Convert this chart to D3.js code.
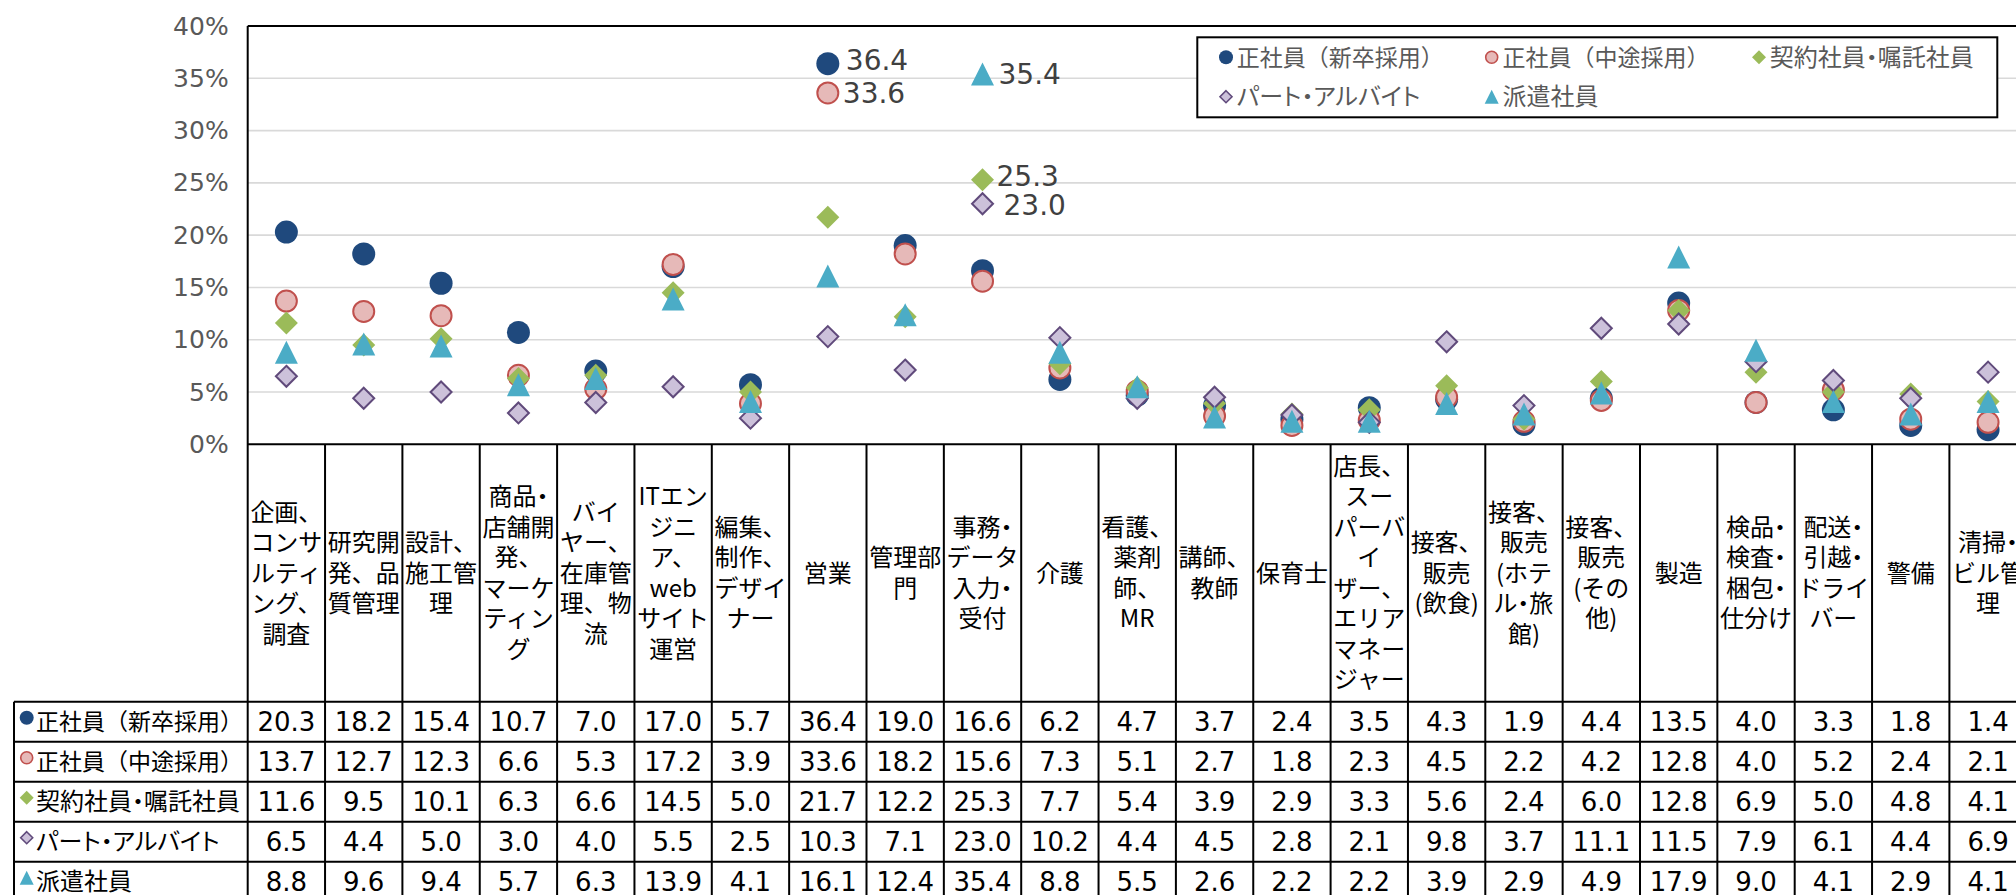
<!DOCTYPE html>
<html>
<head>
<meta charset="utf-8">
<script src="https://cdn.jsdelivr.net/npm/d3@7"></script>
<style>
  body { margin: 0; background: #fff; }
  svg { display: block; }
</style>
</head>
<body>
<div id="chart"></div>
<script>
// categories (line breaks follow the wrapping in the table header)
const categories = [
  "企画、\nコンサ\nルティ\nング、\n調査",
  "研究開\n発、品\n質管理",
  "設計、\n施工管\n理",
  "商品・\n店舗開\n発、\nマーケ\nティン\nグ",
  "バイ\nヤー、\n在庫管\n理、物\n流",
  "ITエン\nジニ\nア、\nweb\nサイト\n運営",
  "編集、\n制作、\nデザイ\nナー",
  "営業",
  "管理部\n門",
  "事務・\nデータ\n入力・\n受付",
  "介護",
  "看護、\n薬剤\n師、\nMR",
  "講師、\n教師",
  "保育士",
  "店長、\nスー\nパーバ\nイ\nザー、\nエリア\nマネー\nジャー",
  "接客、\n販売\n(飲食)",
  "接客、\n販売\n(ホテ\nル・旅\n館)",
  "接客、\n販売\n(その\n他)",
  "製造",
  "検品・\n検査・\n梱包・\n仕分け",
  "配送・\n引越・\nドライ\nバー",
  "警備",
  "清掃・\nビル管\n理"
];

const seriesNames = ["正社員（新卒採用）", "正社員（中途採用）", "契約社員・嘱託社員", "パート・アルバイト", "派遣社員"];

const shinsotsu = [20.3, 18.2, 15.4, 10.7, 7.0, 17.0, 5.7, 36.4, 19.0, 16.6, 6.2, 4.7, 3.7, 2.4, 3.5, 4.3, 1.9, 4.4, 13.5, 4.0, 3.3, 1.8, 1.4];
const chuto     = [13.7, 12.7, 12.3, 6.6, 5.3, 17.2, 3.9, 33.6, 18.2, 15.6, 7.3, 5.1, 2.7, 1.8, 2.3, 4.5, 2.2, 4.2, 12.8, 4.0, 5.2, 2.4, 2.1];
const keiyaku   = [11.6, 9.5, 10.1, 6.3, 6.6, 14.5, 5.0, 21.7, 12.2, 25.3, 7.7, 5.4, 3.9, 2.9, 3.3, 5.6, 2.4, 6.0, 12.8, 6.9, 5.0, 4.8, 4.1];
const part      = [6.5, 4.4, 5.0, 3.0, 4.0, 5.5, 2.5, 10.3, 7.1, 23.0, 10.2, 4.4, 4.5, 2.8, 2.1, 9.8, 3.7, 11.1, 11.5, 7.9, 6.1, 4.4, 6.9];
const haken     = [8.8, 9.6, 9.4, 5.7, 6.3, 13.9, 4.1, 16.1, 12.4, 35.4, 8.8, 5.5, 2.6, 2.2, 2.2, 3.9, 2.9, 4.9, 17.9, 9.0, 4.1, 2.9, 4.1];

const yTicks = [0, 5, 10, 15, 20, 25, 30, 35, 40];

// points that carry a value label: [series index, category index]
const labelled = [[0, 7], [1, 7], [4, 9], [2, 9], [3, 9]];

const values = [shinsotsu, chuto, keiyaku, part, haken];

// ---- layout ----
const W = 2016, H = 895;
const plotLeft = 247.7, colW = 77.35, plotTop = 26, plotBottom = 444.3;
const headerBottom = 701.7, rowH = 40, tableLeft = 14;
const cjk = "'Noto Sans CJK JP', sans-serif";
const num = "'DejaVu Sans', sans-serif";

const styles = [
  { shape: "circle", fill: "#1F497D", stroke: "none" },
  { shape: "circle", fill: "#E6B9B8", stroke: "#C0504D" },
  { shape: "diamond", fill: "#9BBB59", stroke: "none" },
  { shape: "diamond", fill: "#CCC1DA", stroke: "#604A7B" },
  { shape: "triangle", fill: "#4BACC6", stroke: "none" }
];

function markerPath(shape, size, stroked) {
  const p = d3.path();
  const h = size / 2 - (stroked ? 1 : 0);
  if (shape === "circle") {
    p.arc(0, 0, h, 0, 2 * Math.PI);
  } else if (shape === "diamond") {
    p.moveTo(0, -h); p.lineTo(h, 0); p.lineTo(0, h); p.lineTo(-h, 0); p.closePath();
  } else {
    p.moveTo(0, -h); p.lineTo(h, h); p.lineTo(-h, h); p.closePath();
  }
  return p.toString();
}

// narrow middle dots like the original UI font
const palt = t => t.includes("・") ? '"palt"' : null;
const labelSize = t => t.includes("（") ? 23 : 24;

const x = d3.scaleBand()
  .domain(d3.range(categories.length))
  .range([plotLeft, plotLeft + colW * categories.length]);

const y = d3.scaleLinear().domain([0, 40]).range([plotBottom, plotTop]);

const svg = d3.select("#chart").append("svg")
  .attr("width", W)
  .attr("height", H);

// gridlines
svg.append("g")
  .selectAll("line")
  .data(yTicks.filter(d => d > 0 && d < 40))
  .join("line")
  .attr("x1", plotLeft).attr("x2", W)
  .attr("y1", d => y(d)).attr("y2", d => y(d))
  .attr("stroke", "#D9D9D9")
  .attr("stroke-width", 1.6);

// y axis labels
const yAxis = svg.append("g")
  .attr("transform", `translate(${plotLeft},0)`)
  .call(d3.axisLeft(y).tickValues(yTicks).tickFormat(d => d + "%").tickSize(0).tickPadding(19));
yAxis.select(".domain").remove();
yAxis.selectAll("text")
  .attr("font-family", num)
  .attr("font-size", 25)
  .attr("fill", "#595959");

// plot top border
svg.append("line")
  .attr("x1", plotLeft).attr("x2", W)
  .attr("y1", plotTop).attr("y2", plotTop)
  .attr("stroke", "#000").attr("stroke-width", 2);

// legend
const legendItems = [
  { s: 0, x: 1226, y: 57.3 }, { s: 1, x: 1491.7, y: 57.3 }, { s: 2, x: 1759, y: 57.3 },
  { s: 3, x: 1226, y: 96.7 }, { s: 4, x: 1491.7, y: 96.7 }
];
svg.append("rect")
  .attr("x", 1197.3).attr("y", 37.3)
  .attr("width", 800).attr("height", 80)
  .attr("fill", "#fff")
  .attr("stroke", "#000").attr("stroke-width", 2);

const leg = svg.append("g")
  .selectAll("g")
  .data(legendItems)
  .join("g")
  .attr("transform", d => `translate(${d.x},${d.y})`);
leg.append("path")
  .attr("d", d => markerPath(styles[d.s].shape, 14, styles[d.s].stroke !== "none"))
  .attr("fill", d => styles[d.s].fill)
  .attr("stroke", d => styles[d.s].stroke)
  .attr("stroke-width", 1.6);
leg.append("text")
  .attr("x", 10.7)
  .attr("dy", "0.36em")
  .attr("font-family", cjk)
  .attr("font-size", d => labelSize(seriesNames[d.s]))
  .attr("fill", "#595959")
  .style("font-feature-settings", d => palt(seriesNames[d.s]))
  .text(d => seriesNames[d.s]);

// points
values.forEach((vals, s) => {
  const st = styles[s];
  svg.append("g")
    .selectAll("path")
    .data(vals)
    .join("path")
    .attr("transform", (d, i) => `translate(${x(i) + x.bandwidth() / 2},${y(d)})`)
    .attr("d", markerPath(st.shape, 23, st.stroke !== "none"))
    .attr("fill", st.fill)
    .attr("stroke", st.stroke)
    .attr("stroke-width", 2);
});

// value labels
const nudge = { "0,7": [3, -4], "1,7": [0, 0], "4,9": [1, 0], "2,9": [-1, -4], "3,9": [6, 1] };
svg.append("g")
  .selectAll("text")
  .data(labelled)
  .join("text")
  .attr("x", d => x(d[1]) + x.bandwidth() / 2 + 15 + nudge[d.join(",")][0])
  .attr("y", d => y(values[d[0]][d[1]]) + nudge[d.join(",")][1])
  .attr("dy", "0.36em")
  .attr("font-family", num)
  .attr("font-size", 28)
  .attr("fill", "#404040")
  .text(d => values[d[0]][d[1]].toFixed(1));

// ---- data table ----
const table = svg.append("g");

// header text
const headerMid = (plotBottom + headerBottom) / 2;
const hdr = table.selectAll("g.hdr")
  .data(categories)
  .join("g")
  .attr("class", "hdr")
  .attr("transform", (d, i) => `translate(${x(i) + x.bandwidth() / 2},${headerMid})`);
hdr.selectAll("text")
  .data(d => d.split("\n").map((t, k, arr) => ({ t, k, n: arr.length })))
  .join("text")
  .attr("text-anchor", "middle")
  .attr("y", d => (d.k - (d.n - 1) / 2) * 30.5)
  .attr("dy", "0.36em")
  .attr("font-family", cjk)
  .attr("font-size", 24)
  .attr("fill", "#000")
  .style("font-feature-settings", d => palt(d.t))
  .text(d => d.t);

// rows
const rows = table.selectAll("g.row")
  .data(values)
  .join("g")
  .attr("class", "row")
  .attr("transform", (d, s) => `translate(0,${headerBottom + rowH * s + rowH / 2})`);

rows.append("path")
  .attr("transform", "translate(26.7,-4)")
  .attr("d", (d, s) => markerPath(styles[s].shape, 14, styles[s].stroke !== "none"))
  .attr("fill", (d, s) => styles[s].fill)
  .attr("stroke", (d, s) => styles[s].stroke)
  .attr("stroke-width", 1.6);

rows.append("text")
  .attr("x", 36)
  .attr("dy", "0.36em")
  .attr("font-family", cjk)
  .attr("font-size", (d, s) => labelSize(seriesNames[s]))
  .attr("fill", "#000")
  .style("font-feature-settings", (d, s) => palt(seriesNames[s]))
  .text((d, s) => seriesNames[s]);

rows.selectAll("text.v")
  .data(d => d)
  .join("text")
  .attr("class", "v")
  .attr("x", (d, i) => x(i) + x.bandwidth() / 2)
  .attr("dy", "0.36em")
  .attr("text-anchor", "middle")
  .attr("font-family", num)
  .attr("font-size", 26)
  .attr("fill", "#000")
  .text(d => d.toFixed(1));

// table grid
const gridG = table.append("g").attr("stroke", "#000").attr("stroke-width", 2);
// x axis line
gridG.append("line")
  .attr("x1", plotLeft).attr("x2", W)
  .attr("y1", plotBottom).attr("y2", plotBottom);
// horizontal row lines
gridG.selectAll("line.h")
  .data(d3.range(values.length + 1))
  .join("line")
  .attr("class", "h")
  .attr("x1", tableLeft).attr("x2", W)
  .attr("y1", k => headerBottom + rowH * k)
  .attr("y2", k => headerBottom + rowH * k);
// vertical column lines
gridG.selectAll("line.v")
  .data(d3.range(1, categories.length + 1))
  .join("line")
  .attr("class", "v")
  .attr("x1", i => plotLeft + colW * i).attr("x2", i => plotLeft + colW * i)
  .attr("y1", plotBottom).attr("y2", H + 10);
// y axis / first column line
gridG.append("line")
  .attr("x1", plotLeft).attr("x2", plotLeft)
  .attr("y1", plotTop).attr("y2", H + 10);
// table left edge
gridG.append("line")
  .attr("x1", tableLeft).attr("x2", tableLeft)
  .attr("y1", headerBottom).attr("y2", H + 10);
</script>
</body>
</html>
